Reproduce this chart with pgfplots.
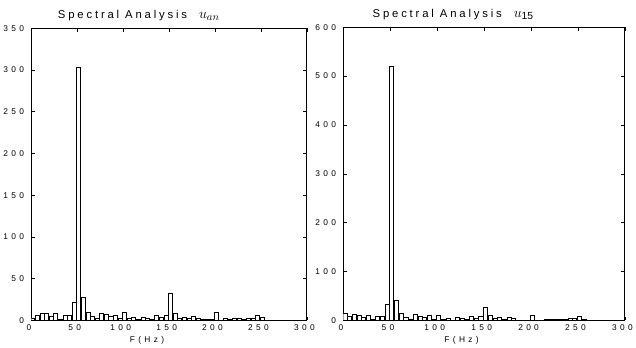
\documentclass[border=0pt]{standalone}
\usepackage{pgfplots}
\pgfplotsset{compat=1.18}
\usepackage{fontspec}
\setmainfont{Liberation Sans}
\newfontfamily\spaced[LetterSpace=40]{Liberation Sans}
\newfontfamily\titlef[LetterSpace=25]{Liberation Sans}

\pgfplotstableread{
x y
1.5 3
6.5 6
11.5 8
16.5 8
21.5 5
26.5 8
31.5 1
36.5 6
41.5 6
46.5 22
51.5 303
56.5 28
61.5 10
66.5 5
71.5 3
76.5 8
81.5 7
86.5 5
91.5 6
96.5 3
101.5 10
106.5 2
111.5 4
116.5 1
121.5 4
126.5 3
131.5 1
136.5 6
141.5 4
146.5 6
151.5 33
156.5 8
161.5 3
166.5 4
171.5 3
176.5 5
181.5 3
186.5 1
191.5 1
196.5 1
201.5 10
206.5 0.5
211.5 2
216.5 1
221.5 2
226.5 3
231.5 1
236.5 3
241.5 3
246.5 6
251.5 4
}\leftdata

\pgfplotstableread{
x y
1.5 14
6.5 9
11.5 12
16.5 11
21.5 7
26.5 10
31.5 3
36.5 8
41.5 9
46.5 33
51.5 520
56.5 42
61.5 14
66.5 6
71.5 2
76.5 13
81.5 9
86.5 7
91.5 10
96.5 3
101.5 11
106.5 2
111.5 5
116.5 1
121.5 6
126.5 5
131.5 2
136.5 8
141.5 5
146.5 9
151.5 26
156.5 11
161.5 5
166.5 6
171.5 3
176.5 6
181.5 5
186.5 1
191.5 1
196.5 1
201.5 11
206.5 1
211.5 1
216.5 3
221.5 2
226.5 2
231.5 3
236.5 2
241.5 4
246.5 5
251.5 8
256.5 3
}\rightdata

\pgfplotsset{
  specstyle/.style={
    scale only axis,
    xmin=0, xmax=300,
    ymin=0,
    xtick={0,50,...,300},
    tick align=inside,
    major tick length=4pt,
    axis line style={black, line width=0.9pt},
    tick style={black, line width=0.6pt},
    /pgf/number format/assume math mode=true,
    ticklabel style={font=\spaced\fontsize{8.5}{9}\selectfont},
    xlabel={F(Hz)},
    xlabel style={font=\spaced\fontsize{8.5}{9}\selectfont, at={(axis description cs:0.42,0)}, anchor=north, yshift=-13pt},
    title style={font=\titlef\fontsize{11.5}{12}\selectfont, at={(axis description cs:0.39,1)}, anchor=south, yshift=-2pt},
    y tick label style={xshift=-4pt},
    x tick label style={xshift=-2.5pt, yshift=-1pt},
    scaled ticks=false,
  }
}

\begin{document}
\begin{tikzpicture}[x=1bp,y=1bp]
\begin{axis}[specstyle,
  at={(0bp,0bp)},
  width=279bp, height=296bp,
  ymax=350, ytick={0,50,...,350},
  title={Spectral Analysis\ \ \fontsize{15}{16}\selectfont$u_{an}$},
]
\addplot[ybar, bar width=4.4, fill=white, draw=black, line width=0.6pt] table[x=x,y=y] {\leftdata};
\end{axis}
\begin{axis}[specstyle,
  at={(316bp,0bp)},
  width=285bp, height=297bp,
  ymax=600, ytick={0,100,...,600},
  title={Spectral Analysis\ \ \fontsize{15}{16}\selectfont$u_{\mathrm{15}}$},
]
\addplot[ybar, bar width=4.4, fill=white, draw=black, line width=0.6pt] table[x=x,y=y] {\rightdata};
\end{axis}
\path ([yshift=6bp]current bounding box.north east);
\end{tikzpicture}
\end{document}
